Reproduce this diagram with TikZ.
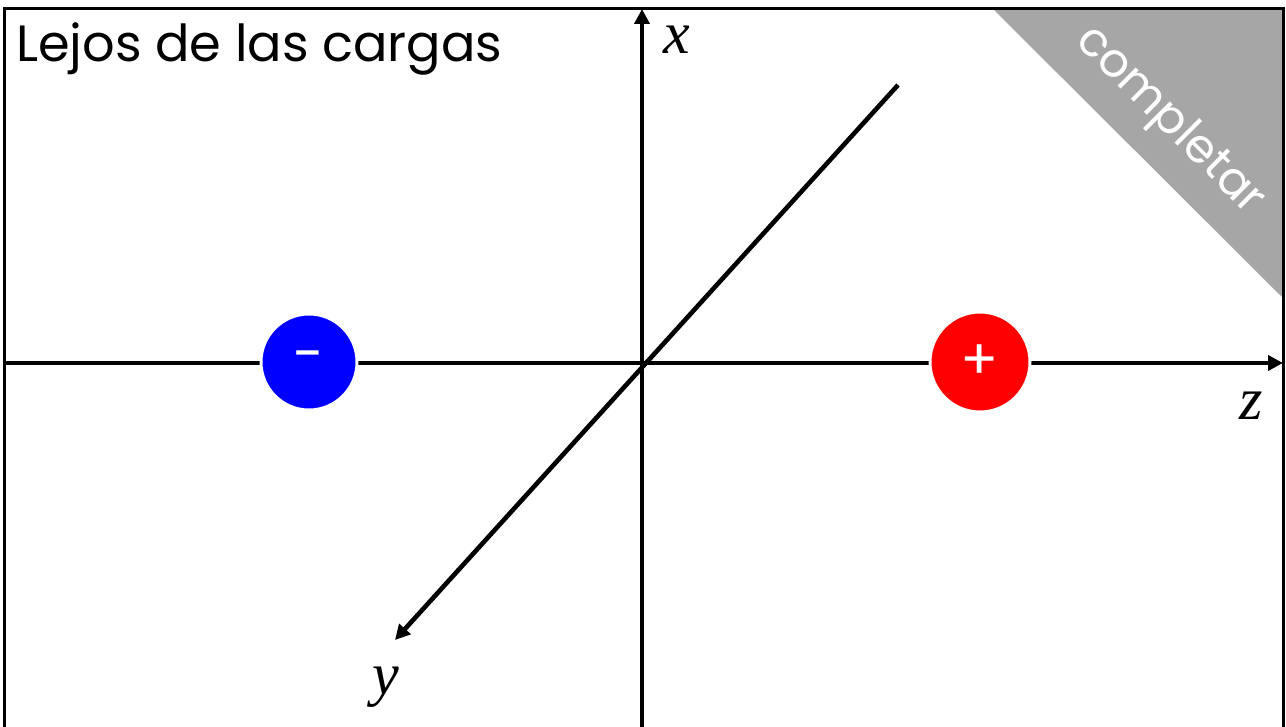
\documentclass[tikz,border=0pt]{standalone}
\usepackage{fontspec}
\setmainfont{Poppins}
\newfontfamily\axfont{Liberation Serif}
\usetikzlibrary{arrows.meta}
\definecolor{cornergray}{HTML}{A6A6A6}
\definecolor{negblue}{HTML}{0000FF}
\definecolor{posred}{HTML}{FF0000}
\tikzset{
  axis/.style={line width=4.6pt, -{Triangle[length=15pt,width=15pt]}},
  charge/.style={circle, draw=white, line width=3pt, inner sep=0pt, text=white, font=\fontsize{56}{56}\selectfont},
  axlabel/.style={font=\axfont\itshape\fontsize{60}{60}\selectfont, inner sep=0pt},
}
\begin{document}
\begin{tikzpicture}[x=1pt,y=-1pt]
\useasboundingbox (0,0) rectangle (1286,727);
\fill[white] (0,0) rectangle (1286,727);
% corner banner
\fill[cornergray] (993,9) -- (1283,9) -- (1283,298) -- cycle;
\node[text=white, rotate=-45, font=\fontsize{47}{47}\selectfont, inner sep=0pt] (banner) at (1169,121) {completar};
% coordinates
\coordinate (zl) at (4,363);
\coordinate (zr) at (1283,363);
\coordinate (xb) at (642,740);
\coordinate (xt) at (642,9);
\coordinate (yt) at (898,85);
\coordinate (yb) at (395,640);
% axes
\draw[axis] (yt) -- (yb);
\draw[axis] (zl) -- (zr);
\draw[axis] (xb) -- (xt);
% frame
\draw[line width=3pt] (4,740) -- (4,9) -- (1283,9) -- (1283,740);
% charges
\node[charge, fill=negblue, minimum size=96pt] (neg) at (309,362) {-};
\node[charge, fill=posred, minimum size=100pt] (pos) at (980,362) {+};
% labels
\node[anchor=west, font=\fontsize{51}{51}\selectfont, inner sep=0pt] (title) at (16,49) {Lejos de las cargas};
\node[axlabel] (lx) at (677,40) {x};
\node[axlabel] (lz) at (1251,406) {z};
\node[axlabel] (ly) at (386,687) {y};
\end{tikzpicture}
\end{document}
